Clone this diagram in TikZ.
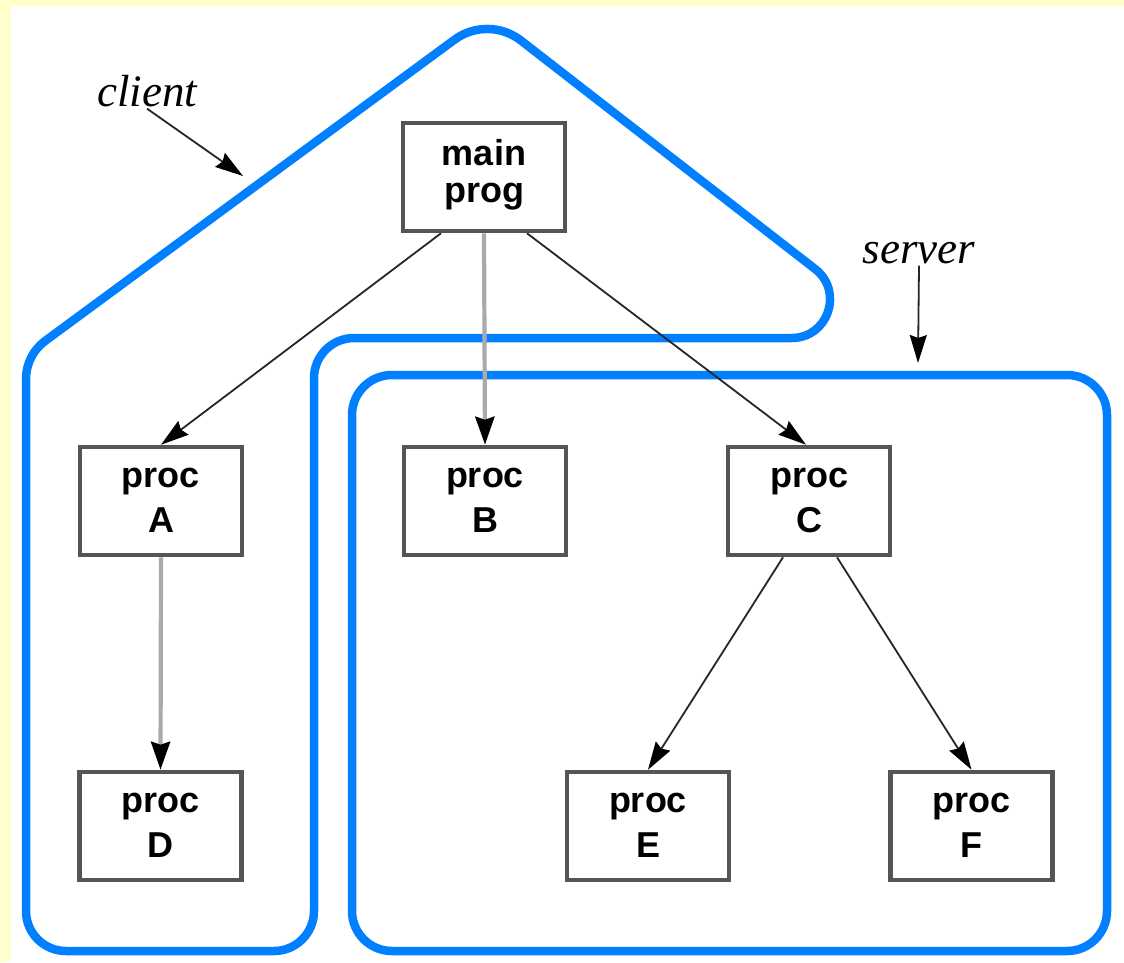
\documentclass[tikz,border=0pt]{standalone}
\usepackage{fontspec}
\setmainfont{Liberation Serif}
\setsansfont{Liberation Sans}
\usetikzlibrary{arrows.meta,calc}
\definecolor{bgyellow}{HTML}{FFFFCC}
\definecolor{outline}{HTML}{0080FF}
\definecolor{boxgray}{HTML}{555555}
\definecolor{edgegray}{HTML}{AAAAAA}
\begin{document}
\begin{tikzpicture}[x=1pt,y=-1pt,
  box/.style={draw=boxgray, line width=4.5pt, fill=white, minimum width=162pt,
    minimum height=108pt, inner sep=0pt,
    font=\sffamily\bfseries\fontsize{36}{45}\selectfont},
  lbl/.style={font=\itshape\fontsize{45}{50}\selectfont, inner sep=2pt, anchor=base},
  blob/.style={draw=outline, line width=8.5pt, line join=round},
  arr/.style={draw=black!85, line width=1.8pt,
    -{Stealth[length=28pt,width=17pt,inset=3pt,black]}},
  garr/.style={draw=edgegray, line width=4.2pt,
    -{Stealth[length=28pt,width=19pt,inset=3pt,black]}}]
% background
\useasboundingbox (0,0) rectangle (1124,962);
\fill[bgyellow] (0,0) rectangle (1124,962);
\fill[white] (11,6) rectangle (1124,962);
% client outline
\draw[blob] (26,379) -- (26,911)
  .. controls ($(26,911)!.552!(26,951)$) and ($(66,951)!.552!(26,951)$) .. (66,951)
  -- (274,951)
  .. controls ($(274,951)!.552!(314,951)$) and ($(314,911)!.552!(314,951)$) .. (314,911)
  -- (314,378)
  .. controls ($(314,378)!.552!(314,338)$) and ($(354,338)!.552!(314,338)$) .. (354,338)
  -- (791.5,338)
  .. controls ($(791.5,338)!.326!(904,338)$) and ($(815.1,269)!.326!(904,338)$) .. (815.1,269)
  -- (520.9,40.5)
  .. controls ($(520.9,40.5)!.592!(488,15)$) and ($(454.5,39.7)!.592!(488,15)$) .. (454.5,39.7)
  -- (45.3,340.8)
  .. controls ($(45.3,340.8)!.629!(26,355)$) and ($(26,379)!.629!(26,355)$) .. (26,379)
  -- cycle;
% server outline
\draw[blob, rounded corners=40pt] (352,375) rectangle (1107,951);
% boxes
\node[box, font=\sffamily\bfseries\fontsize{36}{37}\selectfont] (main) at (484,177)
  {\begin{tabular}{@{}c@{}}main\\prog\end{tabular}};
\node[box] (A) at (161,501) {\begin{tabular}{@{}c@{}}proc\\A\end{tabular}};
\node[box] (B) at (485,501) {\begin{tabular}{@{}c@{}}proc\\B\end{tabular}};
\node[box] (C) at (809,501) {\begin{tabular}{@{}c@{}}proc\\C\end{tabular}};
\node[box] (D) at (160.5,826) {\begin{tabular}{@{}c@{}}proc\\D\end{tabular}};
\node[box] (E) at (648,826) {\begin{tabular}{@{}c@{}}proc\\E\end{tabular}};
\node[box] (F) at (971.5,826) {\begin{tabular}{@{}c@{}}proc\\F\end{tabular}};
% labels
\node[lbl] (client) at (147,106) {client};
\node[lbl] (server) at (919,263) {server};
\coordinate (clientpt) at (243,176);
\coordinate (serverpt) at (918,363);
% connectors
\draw[arr] ([xshift=-43pt]main.south) -- (A.north);
\draw[garr] (main.south) -- (B.north);
\draw[arr] ([xshift=43pt]main.south) -- ([xshift=-3pt]C.north);
\draw[garr] (A.south) -- (D.north);
\draw[arr] ([xshift=-26pt]C.south) -- (E.north);
\draw[arr] ([xshift=28pt]C.south) -- (F.north);
\draw[arr] (client.south) -- (clientpt);
\draw[arr] (server.south) -- (serverpt);
\end{tikzpicture}
\end{document}
